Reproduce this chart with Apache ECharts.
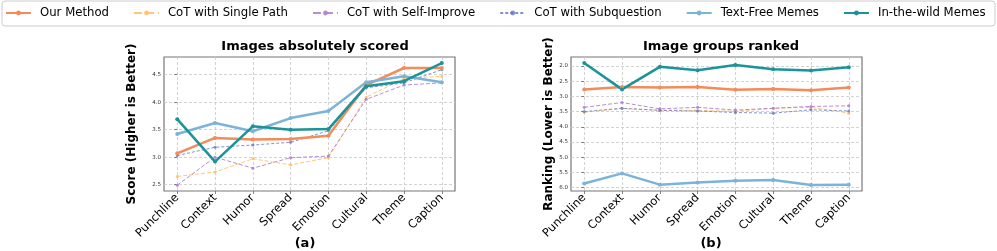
<!DOCTYPE html>
<html><head><meta charset="utf-8">
<script src="https://cdn.jsdelivr.net/npm/echarts@6/dist/echarts.min.js"></script>
<style>html,body{margin:0;padding:0;background:#fff}#c{width:997px;height:251px}</style>
</head><body><div id="c"></div>
<script>
const categories = ['Punchline','Context','Humor','Spread','Emotion','Cultural','Theme','Caption'];
const seriesNames = ['Our Method','CoT with Single Path','CoT with Self-Improve','CoT with Subquestion','Text-Free Memes','In-the-wild Memes'];

// (a) Images absolutely scored
const scoreOur      = [3.07, 3.35, 3.32, 3.33, 3.39, 4.31, 4.62, 4.62];
const scoreSingle   = [2.65, 2.73, 2.97, 2.86, 2.99, 4.09, 4.43, 4.47];
const scoreSelf     = [2.49, 3.00, 2.80, 2.99, 3.02, 4.05, 4.31, 4.35];
const scoreSubq     = [3.03, 3.18, 3.22, 3.27, 3.48, 4.26, 4.35, 4.59];
const scoreTextFree = [3.42, 3.62, 3.47, 3.71, 3.84, 4.36, 4.47, 4.36];
const scoreWild     = [3.69, 2.92, 3.56, 3.50, 3.51, 4.29, 4.38, 4.71];

// (b) Image groups ranked
const rankOur      = [2.77, 2.69, 2.71, 2.69, 2.78, 2.76, 2.80, 2.71];
const rankSingle   = [3.52, 3.40, 3.45, 3.46, 3.49, 3.39, 3.36, 3.55];
const rankSelf     = [3.36, 3.20, 3.41, 3.36, 3.45, 3.39, 3.33, 3.31];
const rankSubq     = [3.50, 3.39, 3.46, 3.48, 3.53, 3.55, 3.44, 3.48];
const rankTextFree = [5.86, 5.53, 5.90, 5.83, 5.77, 5.75, 5.91, 5.90];
const rankWild     = [1.90, 2.77, 2.03, 2.14, 1.97, 2.11, 2.15, 2.04];

const scoreTicks = [2.5, 3.0, 3.5, 4.0, 4.5];
const rankTicks = [2.0, 2.5, 3.0, 3.5, 4.0, 4.5, 5.0, 5.5, 6.0];
const catIdx = categories.map((c, i) => i);

const styles = [
  {color:'#F28C5B', width:2.5, type:'solid', size:4, opacity:1},
  {color:'#FDC26A', width:1, type:'dashed', size:3, opacity:0.9},
  {color:'#B27FD1', width:1, type:'dashed', size:3, opacity:0.9},
  {color:'#6478BD', width:1, type:[3,2], size:3, opacity:0.8},
  {color:'#7BB3D9', width:2.5, type:'solid', size:4, opacity:1},
  {color:'#1A9399', width:2.5, type:'solid', size:4, opacity:1}
];
const scoreData = [scoreOur, scoreSingle, scoreSelf, scoreSubq, scoreTextFree, scoreWild];
const rankData = [rankOur, rankSingle, rankSelf, rankSubq, rankTextFree, rankWild];

const FONT = 'DejaVu Sans';
function xAxis(gi) {
  return {
    type:'value', gridIndex:gi, min:-0.35, max:7.35,
    axisLine:{show:false},
    axisTick:{show:true, customValues:catIdx, length:3, lineStyle:{color:'#666', width:0.8}},
    axisLabel:{customValues:catIdx, formatter:v => categories[Math.round(v)] || '', rotate:45, fontFamily:FONT, fontSize:11.5, color:'#000', margin:5},
    splitLine:{show:true, lineStyle:{color:'#c8c8c8', type:[3,2], width:0.8}}
  };
}
function yAxis(gi, min, max, ticks, name, inverse, gap) {
  return {
    type:'value', gridIndex:gi, min:min, max:max, inverse:inverse,
    name:name, nameLocation:'middle', nameGap:gap,
    nameTextStyle:{fontFamily:FONT, fontSize:12, fontWeight:'bold', color:'#000'},
    axisLine:{show:false},
    axisTick:{show:true, customValues:ticks, length:3, lineStyle:{color:'#666', width:0.8}},
    axisLabel:{customValues:ticks, formatter:v => v.toFixed(1), fontFamily:FONT, fontSize:5.5, color:'#333', margin:3},
    splitLine:{show:true, lineStyle:{color:'#c8c8c8', type:[3,2], width:0.8}}
  };
}
const series = [];
[scoreData, rankData].forEach((set, gi) => {
  set.forEach((vals, k) => {
    const s = styles[k];
    series.push({
      type:'line', name:seriesNames[k], xAxisIndex:gi, yAxisIndex:gi,
      data: vals.map((v, i) => [i, v]),
      symbol:'circle', symbolSize:s.size, showSymbol:true,
      lineStyle:{color:s.color, width:s.width, type:s.type, opacity:s.opacity},
      itemStyle:{color:s.color, opacity:s.opacity},
      z: k >= 4 || k === 0 ? 3 : 2,
      animation:false
    });
  });
});

const chart = echarts.init(document.getElementById('c'), null, {renderer:'canvas'});
chart.setOption({
  animation:false,
  textStyle:{fontFamily:FONT},
  graphic:[{type:'rect', shape:{x:2, y:1, width:993, height:25, r:3}, style:{fill:'#fff', stroke:'#cccccc', lineWidth:1}, z:-1}],
  title:[
    {text:'Images absolutely scored', left:310, top:35, textAlign:'center', textStyle:{fontFamily:FONT, fontSize:13, fontWeight:'bold', color:'#000'}},
    {text:'Image groups ranked', left:716, top:35, textAlign:'center', textStyle:{fontFamily:FONT, fontSize:13, fontWeight:'bold', color:'#000'}},
    {text:'(a)', left:300, top:232, textAlign:'center', textStyle:{fontFamily:FONT, fontSize:13, fontWeight:'bold', color:'#000'}},
    {text:'(b)', left:706, top:232, textAlign:'center', textStyle:{fontFamily:FONT, fontSize:13, fontWeight:'bold', color:'#000'}}
  ],
  legend:{
    data:seriesNames, left:5, top:7, width:992, itemWidth:25, itemHeight:6, itemGap:24,
    padding:0,
    textStyle:{fontFamily:FONT, fontSize:11.7, color:'#000', padding:[0,0,0,4]}
  },
  grid:[
    {left:164, top:57, width:291, height:134, show:true, borderColor:'#777', borderWidth:1.2, backgroundColor:'transparent'},
    {left:571, top:57, width:291, height:134, show:true, borderColor:'#777', borderWidth:1.2, backgroundColor:'transparent'}
  ],
  xAxis:[xAxis(0), xAxis(1)],
  yAxis:[
    yAxis(0, 2.385, 4.82, scoreTicks, 'Score (Higher is Better)', false, 26),
    yAxis(1, 1.706, 6.108, rankTicks, 'Ranking (Lower is Better)', true, 11)
  ],
  series:series
});
</script></body></html>
